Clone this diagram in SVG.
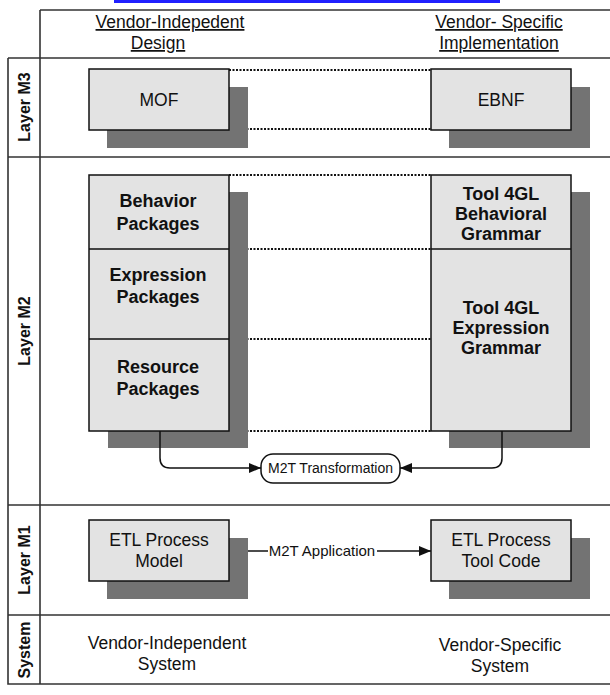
<svg xmlns="http://www.w3.org/2000/svg" width="610" height="695" viewBox="0 0 610 695">
<style>
text{font-family:"Liberation Sans",Arial,sans-serif;fill:#111;text-anchor:middle}
.hd{font-size:17.5px;text-decoration:underline}
.reg{font-size:17.5px}
.bld{font-size:18px;font-weight:bold}
.lay{font-size:16px;font-weight:bold}
.grid{stroke:#333;stroke-width:1.6;fill:none}
.box{fill:#e3e3e3;stroke:#111;stroke-width:1.5}
.sh{fill:#737373}
.dot{stroke:#111;stroke-width:2;stroke-dasharray:2 1.5;fill:none}
.con{stroke:#111;stroke-width:1.5;fill:none}
</style>
<defs>
<marker id="ah" viewBox="0 0 12 10" refX="12" refY="5" markerWidth="12" markerHeight="10" markerUnits="userSpaceOnUse" orient="auto">
<path d="M0,0 L12,5 L0,10 z" fill="#111"/>
</marker>
</defs>
<rect x="114" y="0" width="386" height="3" fill="#2020ff"/>
<g id="table">
<path class="grid" d="M40,10 H610 M40,10 V684 M8,58 H610 M8,58 V684 H610 M8,157 H610 M8,505 H610 M8,615 H610"/>
<text class="hd" x="170" y="28">Vendor-Indepedent</text>
<text class="hd" x="158" y="49">Design</text>
<text class="hd" x="499" y="28">Vendor- Specific</text>
<text class="hd" x="499" y="49">Implementation</text>
<text class="lay" transform="translate(30,107) rotate(-90)">Layer M3</text>
<text class="lay" transform="translate(30,331) rotate(-90)">Layer M2</text>
<text class="lay" transform="translate(30,560) rotate(-90)">Layer M1</text>
<text class="lay" transform="translate(30,650) rotate(-90)">System</text>
</g>
<g id="connectors">
<path class="dot" d="M229,70 H431 M229,129 H431 M229,175 H431 M229,249 H431 M229,339 H431 M229,431 H431"/>
</g>
<g id="mof"><rect class="sh" x="107" y="87" width="141" height="61"/><rect class="box" x="89" y="69" width="140" height="61"/><text class="reg" x="159" y="106">MOF</text></g>
<g id="ebnf"><rect class="sh" x="449" y="87" width="141" height="61"/><rect class="box" x="431" y="69" width="140" height="61"/><text class="reg" x="501" y="106">EBNF</text></g>
<g id="packages">
<rect class="sh" x="108" y="192" width="140" height="256"/>
<rect class="box" x="89" y="175" width="140" height="256"/>
<path class="con" d="M89,249 H229 M89,339 H229"/>
</g>
<g id="behavior-packages"><text class="bld" x="158" y="207">Behavior</text><text class="bld" x="158" y="230">Packages</text></g>
<g id="expression-packages"><text class="bld" x="158" y="281">Expression</text><text class="bld" x="158" y="303">Packages</text></g>
<g id="resource-packages"><text class="bld" x="158" y="373">Resource</text><text class="bld" x="158" y="395">Packages</text></g>
<g id="grammars">
<rect class="sh" x="449" y="192" width="141" height="256"/>
<rect class="box" x="431" y="175" width="140" height="256"/>
<path class="con" d="M431,249 H571"/>
</g>
<g id="behavioral-grammar"><text class="bld" x="501" y="200">Tool 4GL</text><text class="bld" x="501" y="220">Behavioral</text><text class="bld" x="501" y="240">Grammar</text></g>
<g id="expression-grammar"><text class="bld" x="501" y="314">Tool 4GL</text><text class="bld" x="501" y="334">Expression</text><text class="bld" x="501" y="354">Grammar</text></g>
<g id="m2t-connectors">
<path class="con" d="M160,431 V458 Q160,468 170,468 H261" marker-end="url(#ah)"/>
<path class="con" d="M502,431 V458 Q502,468 492,468 H400" marker-end="url(#ah)"/>
<path class="con" d="M229,551 H431" marker-end="url(#ah)"/>
</g>
<g id="m2t-transformation"><rect x="261" y="454" width="139" height="29" rx="12" fill="#fff" stroke="#111" stroke-width="1.5"/><text x="330.5" y="473" style="font-size:14px">M2T Transformation</text></g>
<g id="etl-model"><rect class="sh" x="107" y="538" width="141" height="61"/><rect class="box" x="89" y="520" width="140" height="61"/><text class="reg" x="159" y="546">ETL Process</text><text class="reg" x="159" y="567">Model</text></g>
<g id="etl-code"><rect class="sh" x="449" y="538" width="141" height="61"/><rect class="box" x="431" y="520" width="140" height="61"/><text class="reg" x="501" y="546">ETL Process</text><text class="reg" x="501" y="567">Tool Code</text></g>
<g id="m2t-application"><rect x="268" y="543" width="109" height="16" fill="#fff"/><text x="322" y="556" style="font-size:15px">M2T Application</text></g>
<g id="system-texts">
<text class="reg" x="167" y="649">Vendor-Independent</text>
<text class="reg" x="167" y="670">System</text>
<text class="reg" x="500" y="651">Vendor-Specific</text>
<text class="reg" x="500" y="672">System</text>
</g>
</svg>
